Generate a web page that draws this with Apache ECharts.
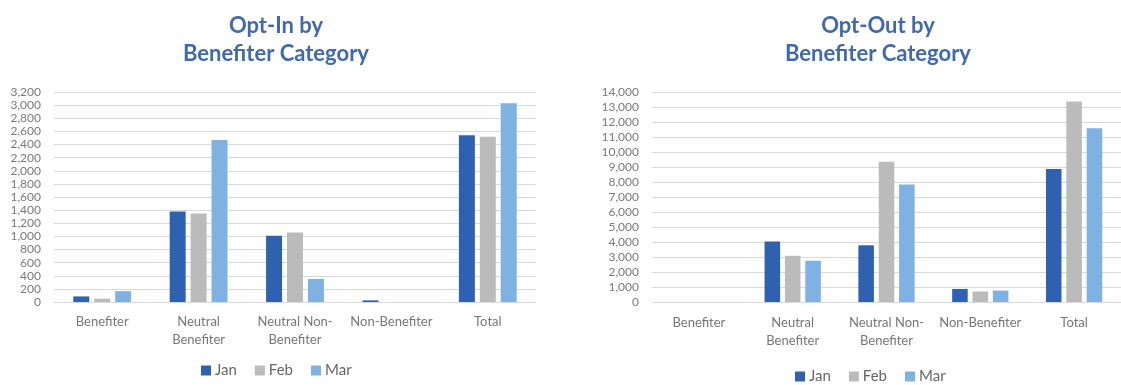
<!DOCTYPE html>
<html>
<head>
<meta charset="utf-8">
<script src="https://cdn.jsdelivr.net/npm/echarts@6/dist/echarts.min.js"></script>
<style>
html,body{margin:0;padding:0;background:#fff;}
#c{width:1121px;height:385px;}
</style>
</head>
<body>
<div id="c"></div>
<script>
const categories = ['Benefiter', 'Neutral\nBenefiter', 'Neutral Non-\nBenefiter', 'Non-Benefiter', 'Total'];
const months = ['Jan', 'Feb', 'Mar'];
const optInJan = [85, 1380, 1010, 25, 2540];
const optInFeb = [50, 1350, 1060, 0, 2520];
const optInMar = [165, 2470, 350, 0, 3030];
const optOutJan = [0, 4030, 3780, 870, 8870];
const optOutFeb = [0, 3080, 9350, 700, 13370];
const optOutMar = [0, 2750, 7830, 760, 11590];
const titles = ['Opt-In by\nBenefiter Category', 'Opt-Out by\nBenefiter Category'];

const colors = ['#2E62B0', '#BBBBBB', '#7FB1E3'];
const FONT = 'Lato';
const chart = echarts.init(document.getElementById('c'), null, {renderer: 'canvas'});

const fmt = v => Number(v).toLocaleString('en-US');

function yAxis(gi, max, interval) {
  return {
    type: 'value', gridIndex: gi, min: 0, max: max, interval: interval,
    axisLine: {show: false}, axisTick: {show: false},
    splitLine: {lineStyle: {color: '#D9D9D9', width: 1}},
    axisLabel: {color: '#7A7A7A', fontFamily: FONT, fontSize: 12, margin: 13, formatter: fmt}
  };
}
function xAxis(gi, margin) {
  return {
    type: 'category', gridIndex: gi, data: categories,
    axisLine: {lineStyle: {color: '#D9D9D9'}}, axisTick: {show: false},
    axisLabel: {color: '#777777', fontFamily: FONT, fontSize: 13, lineHeight: 18, margin: margin, interval: 0}
  };
}
function bars(gi, name, data, color) {
  return {
    type: 'bar', name: name, xAxisIndex: gi, yAxisIndex: gi, data: data,
    itemStyle: {color: color}, barGap: '31%', barCategoryGap: '40%'
  };
}

const titleStyle = {color: '#4169AE', fontFamily: FONT, fontWeight: 'bold', fontSize: 22, lineHeight: 28};
const legendText = {color: '#666', fontFamily: FONT, fontSize: 15, padding: [0,0,0,-1]};

const option = {
  animation: false,
  title: [
    {text: titles[0], left: 271, top: 7, textAlign: 'center', textStyle: titleStyle},
    {text: titles[1], left: 873, top: 7, textAlign: 'center', textStyle: titleStyle}
  ],
  legend: [
    {data: months, left: 196, top: 358, itemWidth: 10, itemHeight: 10, itemGap: 18,
     icon: 'rect', textStyle: legendText},
    {data: months, left: 790, top: 364, itemWidth: 10, itemHeight: 10, itemGap: 18,
     icon: 'rect', textStyle: legendText}
  ],
  grid: [
    {left: 54, top: 92, width: 482, height: 210},
    {left: 652, top: 92, width: 475, height: 210}
  ],
  xAxis: [xAxis(0, 11), xAxis(1, 12)],
  yAxis: [yAxis(0, 3200, 200), yAxis(1, 14000, 1000)],
  series: [
    bars(0, months[0], optInJan, colors[0]),
    bars(0, months[1], optInFeb, colors[1]),
    bars(0, months[2], optInMar, colors[2]),
    bars(1, months[0], optOutJan, colors[0]),
    bars(1, months[1], optOutFeb, colors[1]),
    bars(1, months[2], optOutMar, colors[2])
  ]
};
chart.setOption(option);
</script>
</body>
</html>
